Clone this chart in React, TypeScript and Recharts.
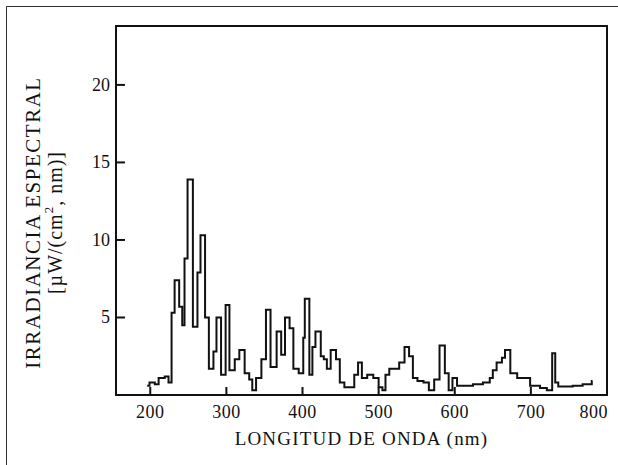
import { Line, LineChart, ReferenceArea, XAxis, YAxis } from "recharts";

// longitud de onda (nm) donde empieza cada escalón
const WAVELENGTH = [
  196, 199, 206, 211, 219, 224, 228, 232, 238, 242, 245, 249, 256, 262, 266, 272,
  277, 283, 287, 293, 299, 304, 311, 317, 324, 330, 334, 339, 346, 352, 358, 366,
  372, 377, 383, 388, 395, 401, 403, 409, 413, 417, 424, 428, 432, 437, 444, 449,
  455, 468, 473, 478, 485, 493, 500, 505, 509, 514, 527, 534, 540, 545, 551, 559,
  566, 573, 580, 587, 592, 597, 603, 624, 637, 646, 650, 655, 662, 666, 673, 682,
  699, 712, 721, 728, 732, 736, 755, 768, 780, 781,
];

// irradiancia espectral µW/(cm²·nm)
const IRRADIANCE = [
  0.6, 0.8, 0.7, 1.1, 1.2, 0.8, 5.3, 7.4, 5.7, 4.5, 8.8, 13.9, 4.4, 7.9, 10.3, 5.0,
  1.7, 2.8, 5.0, 1.3, 5.8, 1.6, 2.3, 2.9, 1.4, 1.0, 0.3, 1.1, 2.3, 5.5, 1.8, 4.1,
  2.6, 5.0, 4.3, 1.7, 1.4, 3.7, 6.2, 1.3, 3.1, 4.1, 2.5, 2.3, 1.7, 2.9, 2.3, 0.8,
  0.5, 1.3, 2.1, 1.1, 1.3, 1.1, 0.5, 0.3, 1.3, 1.7, 2.1, 3.1, 2.5, 1.1, 0.9, 0.8,
  0.3, 1.0, 3.2, 1.4, 0.3, 1.1, 0.6, 0.7, 0.8, 1.1, 1.6, 2.1, 2.4, 2.9, 1.4, 1.1,
  0.6, 0.45, 0.3, 2.7, 0.8, 0.55, 0.6, 0.7, 0.9, 0.9,
];

const X_TICKS = [200, 300, 400, 500, 600, 700, 800];
const Y_TICKS = [5, 10, 15, 20];
const X_DOMAIN: [number, number] = [155, 800];
const Y_DOMAIN: [number, number] = [0, 23.8];

const FONT = '"Liberation Serif", "Times New Roman", serif';
const INK = "#111";

const data = WAVELENGTH.map((x, i) => ({ x, y: IRRADIANCE[i] }));

// ticks hacia dentro, como en la figura original
function XTick({ x, y, payload, index }: any) {
  const last = index === X_TICKS.length - 1;
  return (
    <g>
      <line x1={x} x2={x} y1={y} y2={y - 8} stroke={INK} strokeWidth={2} />
      <text
        x={last ? x + 1 : x}
        y={y + 23}
        textAnchor={last ? "end" : "middle"}
        fontFamily={FONT}
        fontSize={18}
        fill={INK}
        letterSpacing={0.5}
      >
        {payload.value}
      </text>
    </g>
  );
}

function YTick({ x, y, payload }: any) {
  return (
    <g>
      <line x1={x} x2={x + 9} y1={y} y2={y} stroke={INK} strokeWidth={2} />
      <text x={x - 6} y={y} textAnchor="end" dominantBaseline="central" fontFamily={FONT} fontSize={18} fill={INK}>
        {payload.value}
      </text>
    </g>
  );
}

function YLabel({ viewBox }: any) {
  const cy = viewBox.y + viewBox.height / 2 + 12;
  return (
    <g fontFamily={FONT} fill={INK}>
      <text
        x={33}
        y={cy}
        transform={`rotate(-90 33 ${cy})`}
        textAnchor="middle"
        dominantBaseline="central"
        fontSize={21}
        letterSpacing={1.5}
      >
        IRRADIANCIA ESPECTRAL
      </text>
      <text
        x={55}
        y={cy}
        transform={`rotate(-90 55 ${cy})`}
        textAnchor="middle"
        dominantBaseline="central"
        fontSize={20}
        letterSpacing={1}
      >
        [µW/(cm
        <tspan fontSize={13} dy={-7}>2</tspan>
        <tspan dy={7}>, nm)]</tspan>
      </text>
    </g>
  );
}

export default function App() {
  return (
    <div
      style={{
        position: "absolute",
        left: 0,
        top: 0,
        width: 618,
        height: 465,
        background: "#fff",
        overflow: "hidden",
      }}
    >
      <div
        style={{
          position: "absolute",
          left: 6,
          top: 6,
          width: 640,
          height: 480,
          borderLeft: "1.5px solid #333",
          borderTop: "1.5px solid #333",
        }}
      />
      <LineChart
        width={618}
        height={465}
        data={data}
        margin={{ top: 26, right: 11, bottom: 0, left: 0 }}
        style={{ position: "absolute", left: 0, top: 0 }}
      >
        <XAxis
          dataKey="x"
          type="number"
          domain={X_DOMAIN}
          ticks={X_TICKS}
          interval={0}
          height={70}
          tickSize={0}
          tickMargin={0}
          tickLine={false}
          tick={<XTick />}
          axisLine={{ stroke: INK, strokeWidth: 2 }}
          label={{
            value: "LONGITUD DE ONDA (nm)",
            position: "insideBottom",
            offset: 20,
            style: { fontFamily: FONT, fontSize: 19, fill: INK, letterSpacing: 1.2 },
          }}
        />
        <YAxis
          type="number"
          domain={Y_DOMAIN}
          ticks={Y_TICKS}
          interval={0}
          width={116}
          tickSize={0}
          tickMargin={0}
          tickLine={false}
          tick={<YTick />}
          axisLine={{ stroke: INK, strokeWidth: 2 }}
          label={<YLabel />}
        />
        <ReferenceArea
          x1={X_DOMAIN[0]}
          x2={X_DOMAIN[1]}
          y1={Y_DOMAIN[0]}
          y2={Y_DOMAIN[1]}
          fill="none"
          fillOpacity={0}
          stroke={INK}
          strokeWidth={2}
          ifOverflow="visible"
        />
        <Line
          dataKey="y"
          type="stepAfter"
          stroke={INK}
          strokeWidth={2}
          dot={false}
          isAnimationActive={false}
        />
      </LineChart>
    </div>
  );
}
